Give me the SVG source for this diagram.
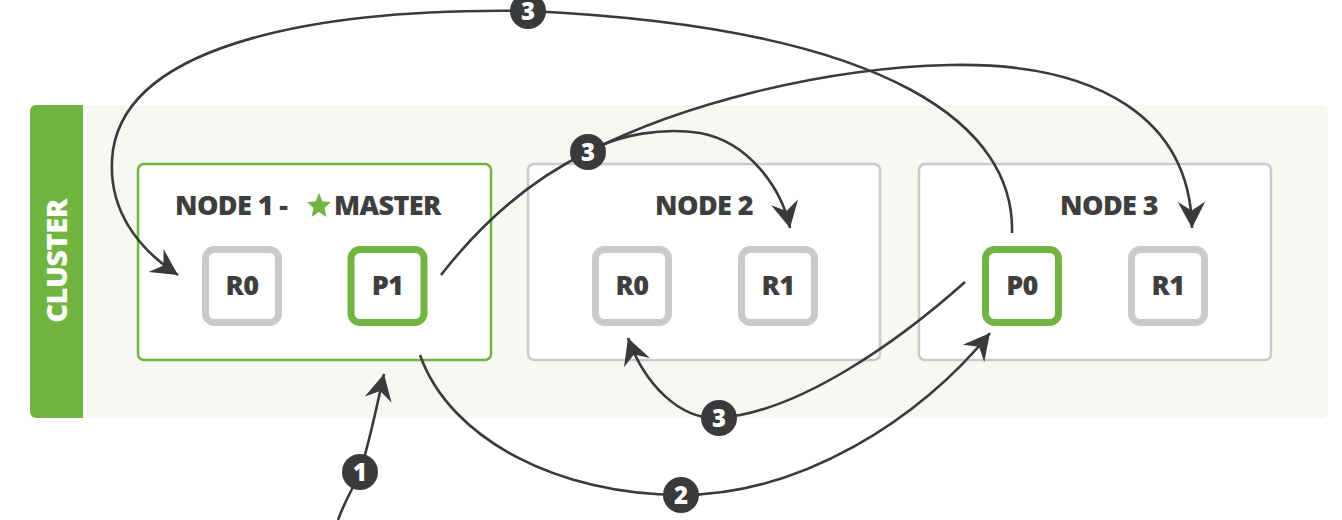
<svg xmlns="http://www.w3.org/2000/svg" width="1342" height="520" viewBox="0 0 1342 520">
<style>
.title{font-family:"Open Sans","Liberation Sans",sans-serif;font-weight:800;font-size:27px;fill:#3e3e3e;letter-spacing:-0.6px;}
.shardtxt{font-family:"Open Sans","Liberation Sans",sans-serif;font-weight:800;font-size:27px;fill:#3e3e3e;text-anchor:middle;letter-spacing:-0.6px;}
.node{fill:#fff;stroke-width:2.5;}
.green{stroke:#72b442;}
.gray{stroke:#cacaca;}
.shard{fill:#fff;stroke-width:7;}
.conn{fill:none;stroke:#3a3a3a;stroke-width:2.6;}
.badge circle{fill:#3a3a3a;}
.badge text{font-family:"Open Sans","Liberation Sans",sans-serif;font-weight:800;font-size:24px;fill:#fff;text-anchor:middle;}
</style>
<defs>
<marker id="arr" markerUnits="userSpaceOnUse" markerWidth="30" markerHeight="30" viewBox="-22 -12 24 24" refX="0" refY="0" orient="auto">
<path d="M0,0 L-21,-11 L-14,0 L-21,11 Z" fill="#3a3a3a"/>
</marker>
</defs>
<rect width="1342" height="520" fill="#fff"/>
<g id="cluster">
<rect x="30" y="105" width="1298" height="313" rx="6" fill="#f6f8f4"/>
<path d="M36,105 H83 V418 H36 A6,6 0 0 1 30,412 V111 A6,6 0 0 1 36,105 Z" fill="#72b442"/>
<text transform="translate(67,261) rotate(-90)" text-anchor="middle" style="font-family:'Open Sans','Liberation Sans',sans-serif;font-weight:800;font-size:29px;fill:#fff;letter-spacing:-0.5px">CLUSTER</text>
</g>
<g id="node1">
<rect class="node green" x="138" y="164" width="353" height="196" rx="6"/>
<text class="title" x="175" y="215">NODE 1 -</text>
<path d="M319,193 L322.5,201.5 L331,202 L324.5,208 L326.5,217 L319,212 L311.5,217 L313.5,208 L307,202 L315.5,201.5 Z" fill="#72b442"/>
<text class="title" x="334" y="215">MASTER</text>
</g>
<g id="node1-r0">
<rect class="shard gray" x="205.5" y="249.5" width="73" height="73" rx="9"/>
<text class="shardtxt" x="242" y="295">R0</text>
</g>
<g id="node1-p1">
<rect class="shard green" x="351" y="249.5" width="73" height="73" rx="9"/>
<text class="shardtxt" x="387.5" y="295">P1</text>
</g>
<g id="node2">
<rect class="node gray" x="528" y="164" width="352" height="196" rx="6"/>
<text class="title" x="704" y="215" text-anchor="middle">NODE 2</text>
</g>
<g id="node2-r0">
<rect class="shard gray" x="595.5" y="249.5" width="73" height="73" rx="9"/>
<text class="shardtxt" x="632" y="295">R0</text>
</g>
<g id="node2-r1">
<rect class="shard gray" x="741.5" y="249.5" width="73" height="73" rx="9"/>
<text class="shardtxt" x="778" y="295">R1</text>
</g>
<g id="node3">
<rect class="node gray" x="919" y="164" width="352" height="196" rx="6"/>
<text class="title" x="1109" y="215" text-anchor="middle">NODE 3</text>
</g>
<g id="node3-p0">
<rect class="shard green" x="985.5" y="249.5" width="73" height="73" rx="9"/>
<text class="shardtxt" x="1022" y="295">P0</text>
</g>
<g id="node3-r1">
<rect class="shard gray" x="1131.5" y="249.5" width="73" height="73" rx="9"/>
<text class="shardtxt" x="1168" y="295">R1</text>
</g>
<g id="connectors">
<path class="conn" marker-end="url(#arr)" d="M338,520 C345,500 355,485 360,472 C370,440 377,405 384,374"/>
<path class="conn" marker-end="url(#arr)" d="M420,355 C450,440 560,495 681,495 C800,495 920,420 990,333"/>
<path class="conn" marker-end="url(#arr)" d="M965,282 C900,340 800,412 719,418 C680,420 645,385 628,338"/>
<path class="conn" d="M441,275 C480,225 530,180 588,152"/>
<path class="conn" marker-end="url(#arr)" d="M588,152 C680,105 820,68 950,65 C1100,62 1190,120 1192,228"/>
<path class="conn" marker-end="url(#arr)" d="M598,147 C620,136 660,127 700,133 C750,142 782,190 790,228"/>
<path class="conn" d="M1012,233 C1015,130 900,28 528,11"/>
<path class="conn" marker-end="url(#arr)" d="M528,11 C330,8 130,40 113,150 C105,210 140,250 178,275"/>
</g>
<g id="badges">
<g class="badge" id="badge-3-top"><circle cx="528" cy="11" r="18"/><text x="528" y="20">3</text></g>
<g class="badge" id="badge-3-mid"><circle cx="588" cy="152" r="18"/><text x="588" y="161">3</text></g>
<g class="badge" id="badge-3-low"><circle cx="719" cy="418" r="18"/><text x="719" y="427">3</text></g>
<g class="badge" id="badge-2"><circle cx="681" cy="495" r="18"/><text x="681" y="504">2</text></g>
<g class="badge" id="badge-1"><circle cx="360" cy="472" r="18"/><text x="360" y="481">1</text></g>
</g>
</svg>
